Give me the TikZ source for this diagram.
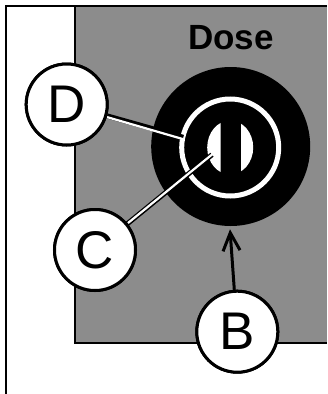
\documentclass[tikz,border=0pt]{standalone}
\usepackage{fontspec}
\setmainfont{Liberation Sans}
\usetikzlibrary{arrows.meta}
\definecolor{panelgrey}{HTML}{8C8C8C}
\tikzset{
  callout/.style={circle,draw=black,fill=white,line width=3pt,minimum size=81pt,inner sep=0pt,font=\fontsize{53}{53}\selectfont},
  leaderblack/.style={draw=black,line width=5pt},
  leaderwhite/.style={draw=white,line width=2.2pt},
}
\begin{document}
\begin{tikzpicture}[x=1pt,y=-1pt]
\useasboundingbox (0,0) rectangle (327,394);
\fill[white] (0,0) rectangle (327,394);
\fill[panelgrey] (75,6) rectangle (327,343);
\draw[line width=2pt] (6,394) -- (6,6) -- (327,6);
\draw[line width=2.6pt] (75,6) -- (75,343) -- (327,343);
\fill[black] (230.7,146.5) circle (79.5);
\draw[white,line width=5pt] (230.2,147.5) circle (48.5);
\begin{scope}
\clip (207,120) rectangle (220.7,176);
\fill[white] (230.2,147.5) ellipse (23 and 27);
\end{scope}
\begin{scope}
\clip (241,120) rectangle (254,176);
\fill[white] (230.2,147.5) ellipse (23 and 27);
\end{scope}
\node[font=\fontsize{35}{35}\selectfont\bfseries] (dose) at (231,38) {Dose};
\node[callout] (D) at (66.7,104.5) {D};
\node[callout] (C) at (95,250) {C};
\node[callout] (B) at (237.3,331.7) {B};
\coordinate (dend) at (183.3,138.3);
\coordinate (cend) at (212.7,154);
\coordinate (btip) at (230,229.3);
\draw[leaderblack] (D) -- ([yshift=1pt]dend);
\draw[leaderwhite,transform canvas={yshift=-0.9pt}] (D) -- (dend);
\draw[leaderblack,transform canvas={xshift=-0.7pt,yshift=-0.7pt}] (C) -- (cend);
\draw[leaderwhite,transform canvas={xshift=0.4pt,yshift=0.4pt}] (C) -- (cend);
\draw[line width=3pt,-{Straight Barb[length=18pt,width=17pt,line width=3pt]}] (B) -- (btip);
\node[callout] at (D) {D};
\node[callout] at (C) {C};
\node[callout] at (B) {B};
\end{tikzpicture}
\end{document}
